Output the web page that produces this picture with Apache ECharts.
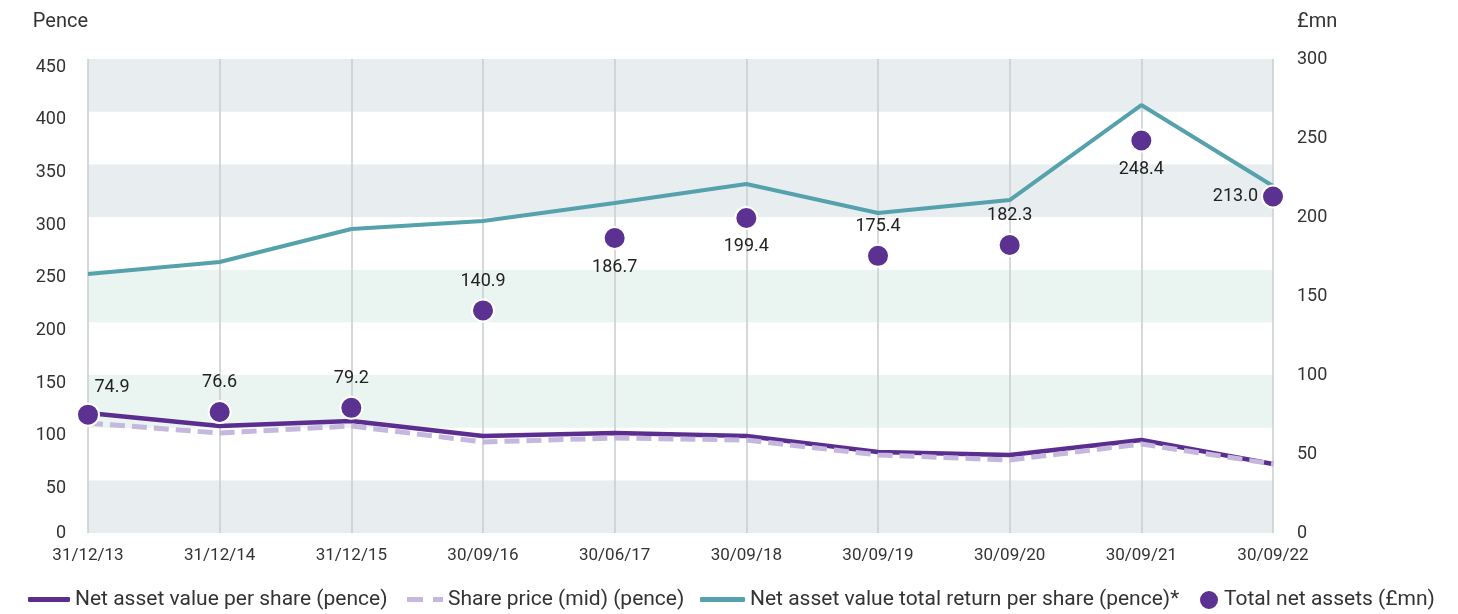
<!DOCTYPE html>
<html>
<head>
    <meta charset="utf-8">
    <title>ECharts</title>
    <script src="https://cdn.jsdelivr.net/npm/echarts@6/dist/echarts.min.js"></script>
    <style>
        html, body { margin: 0; padding: 0; background: #fff; }
    </style>
</head>
<body>
    <div id="main" style="width: 1458px;height:614px;"></div>
    <script type="text/javascript">
        // categories and values
        var categories = ['31/12/13', '31/12/14', '31/12/15', '30/09/16', '30/06/17', '30/09/18', '30/09/19', '30/09/20', '30/09/21', '30/09/22'];
        var navPerShare = [113.9, 101.6, 106.3, 92.1, 94.9, 92.1, 76.9, 74.1, 88.3, 65.5];
        var sharePrice = [104.4, 94.9, 101.6, 86.4, 90.2, 88.3, 74.1, 69.3, 84.5, 65.5];
        var navTotalReturn = [245.9, 257.3, 288.6, 296.2, 313.3, 331.3, 303.8, 316.1, 406.3, 329.4];
        var totalNetAssets = [74.9, 76.6, 79.2, 140.9, 186.7, 199.4, 175.4, 182.3, 248.4, 213.0];
        // where each value label sits relative to its dot
        var labelPos = ['top', 'top', 'top', 'top', 'bottom', 'bottom', 'top', 'top', 'bottom', 'left'];

        var FONT = 'Roboto';
        var textColor = '#333';
        var purple = '#5a2d8f';
        var lilac = '#c5b7de';
        var teal = '#55a2ac';
        var dotColor = '#5b3192';

        var names = [
            'Net asset value per share (pence)',
            'Share price (mid) (pence)',
            'Net asset value total return per share (pence)*',
            'Total net assets (£mn)'
        ];

        var assetPoints = totalNetAssets.map(function (v, i) {
            var p = {
                value: v,
                label: { position: labelPos[i] }
            };
            if (i === 0) p.label.offset = [24, 2];
            if (labelPos[i] === 'left') p.label.distance = 3;
            return p;
        });

        // one legend per item so each keeps its own icon size and place
        function legendItem(name, left, w, h, icon) {
            return {
                data: [{ name: name, icon: icon }],
                left: left,
                top: 589,
                itemWidth: w,
                itemHeight: h,
                itemGap: 5,
                padding: 0,
                textStyle: { fontFamily: FONT, fontSize: 21, color: textColor }
            };
        }

        var myChart = echarts.init(document.getElementById('main'));

        var option = {
            animation: false,
            grid: { left: 88, right: 185, top: 59, bottom: 81 },
            legend: [
                legendItem(names[0], 28, 42, 5, 'roundRect'),
                legendItem(names[1], 407, 36, 5, 'path://M0,0 L16,0 L16,5 L0,5 Z M26,0 L36,0 L36,5 L26,5 Z'),
                legendItem(names[2], 700, 45, 5, 'roundRect'),
                legendItem(names[3], 1198, 20, 20, 'circle')
            ],
            xAxis: {
                type: 'category',
                data: categories,
                boundaryGap: false,
                axisLine: { show: false },
                axisTick: { show: false },
                axisLabel: { fontFamily: FONT, fontSize: 17, color: textColor, margin: 14 },
                splitLine: { show: true, lineStyle: { color: '#c8cccf', width: 1.5 } }
            },
            yAxis: [{
                type: 'value',
                min: 0,
                max: 450,
                interval: 50,
                name: 'Pence',
                nameLocation: 'end',
                nameGap: 27,
                nameTextStyle: { fontFamily: FONT, fontSize: 20, color: textColor, align: 'right' },
                axisLine: { show: false },
                axisTick: { show: false },
                axisLabel: {
                    fontFamily: FONT, fontSize: 18, color: textColor, margin: 22,
                    // the left labels sit a little below their band edges, except 0
                    formatter: function (v) { return v === 0 ? '{z|0}' : '{n|' + v + '}'; },
                    rich: {
                        z: { fontFamily: FONT, fontSize: 18, color: textColor },
                        n: { fontFamily: FONT, fontSize: 18, color: textColor, padding: [16, 0, 0, 0] }
                    }
                },
                splitLine: { show: false },
                splitArea: {
                    show: true,
                    areaStyle: {
                        color: ['#e8eef0', '#ffffff', '#eaf4f1', '#ffffff', '#eaf4f1', '#ffffff', '#e8eef0', '#ffffff', '#e8eef0']
                    }
                }
            }, {
                type: 'value',
                min: 0,
                max: 300,
                interval: 50,
                name: '£mn',
                nameLocation: 'end',
                nameGap: 27,
                nameTextStyle: { fontFamily: FONT, fontSize: 20, color: textColor, align: 'left', padding: [0, 0, 0, 24] },
                axisLine: { show: false },
                axisTick: { show: false },
                axisLabel: { fontFamily: FONT, fontSize: 18, color: textColor, margin: 24 },
                splitLine: { show: false }
            }],
            series: [{
                name: names[0],
                type: 'line',
                data: navPerShare,
                symbol: 'none',
                lineStyle: { color: purple, width: 4.5 },
                itemStyle: { color: purple },
                z: 2
            }, {
                name: names[1],
                type: 'line',
                data: sharePrice,
                symbol: 'none',
                lineStyle: { color: lilac, width: 5, type: [15, 7] },
                itemStyle: { color: lilac },
                z: 3
            }, {
                name: names[2],
                type: 'line',
                data: navTotalReturn,
                symbol: 'none',
                lineStyle: { color: teal, width: 4 },
                itemStyle: { color: teal },
                z: 2
            }, {
                name: names[3],
                type: 'scatter',
                yAxisIndex: 1,
                data: assetPoints,
                symbolSize: 22,
                itemStyle: { color: dotColor, opacity: 1, borderColor: '#fff', borderWidth: 2 },
                label: {
                    show: true,
                    distance: 8,
                    fontFamily: FONT,
                    fontSize: 18,
                    color: '#222',
                    formatter: function (p) { return p.value.toFixed(1); }
                },
                z: 5
            }]
        };

        myChart.setOption(option);
    </script>
</body>
</html>
